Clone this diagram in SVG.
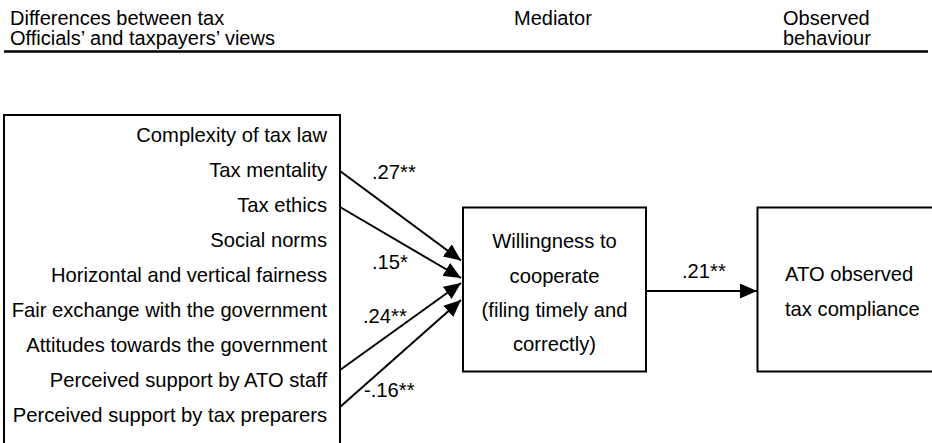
<svg xmlns="http://www.w3.org/2000/svg" width="932" height="443" viewBox="0 0 932 443">
<defs>
<style>
text{font-family:"Liberation Sans",Arial,Helvetica,sans-serif;font-size:20.2px;fill:#000}
.hd{font-size:20px}
.box{fill:#fff;stroke:#000;stroke-width:2}
.conn{stroke:#000;stroke-width:2;fill:none}
.r{text-anchor:end}
.m{text-anchor:middle}
</style>
<marker id="ah" markerUnits="userSpaceOnUse" viewBox="0 0 17 15" refX="17" refY="7.5" markerWidth="17" markerHeight="15" orient="auto">
<path d="M0,0 L17,7.5 L0,15 z" fill="#000"/>
</marker>
</defs>
<rect width="932" height="443" fill="#fff"/>
<g id="header">
<text class="hd" x="10" y="24.5">Differences between tax</text>
<text class="hd" x="10" y="45">Officials’ and taxpayers’ views</text>
<text class="hd" x="514" y="24.5">Mediator</text>
<text class="hd" x="783" y="24.5">Observed</text>
<text class="hd" x="783" y="45">behaviour</text>
<line x1="4" y1="51.5" x2="928" y2="51.5" stroke="#000" stroke-width="2.5"/>
</g>
<g id="predictors">
<rect class="box" x="4" y="115" width="336" height="340"/>
<text class="r" x="327" y="141.5">Complexity of tax law</text>
<text class="r" x="327" y="176.5">Tax mentality</text>
<text class="r" x="327" y="211.5">Tax ethics</text>
<text class="r" x="327" y="246.5">Social norms</text>
<text class="r" x="327" y="281.5">Horizontal and vertical fairness</text>
<text class="r" x="327" y="316.5">Fair exchange with the government</text>
<text class="r" x="327" y="351.5">Attitudes towards the government</text>
<text class="r" x="327" y="386.5">Perceived support by ATO staff</text>
<text class="r" x="327" y="421.5">Perceived support by tax preparers</text>
</g>
<g id="mediator">
<rect class="box" x="463" y="207.5" width="183" height="164"/>
<text class="m" x="554.5" y="248">Willingness to</text>
<text class="m" x="554.5" y="282.5">cooperate</text>
<text class="m" x="554.5" y="316.5">(filing timely and</text>
<text class="m" x="554.5" y="351">correctly)</text>
</g>
<g id="outcome">
<rect class="box" x="757.5" y="207.5" width="190" height="164"/>
<text x="785" y="281">ATO observed</text>
<text x="785" y="315.5">tax compliance</text>
</g>
<g id="connectors">
<line class="conn" x1="340" y1="171" x2="461" y2="260.5" marker-end="url(#ah)"/>
<line class="conn" x1="340" y1="207" x2="461" y2="278" marker-end="url(#ah)"/>
<line class="conn" x1="340" y1="370" x2="461" y2="283" marker-end="url(#ah)"/>
<line class="conn" x1="340" y1="407" x2="461" y2="300" marker-end="url(#ah)"/>
<line class="conn" x1="646" y1="291" x2="757" y2="291" marker-end="url(#ah)"/>
<text x="372" y="179">.27**</text>
<text x="372" y="269">.15*</text>
<text x="363" y="323">.24**</text>
<text x="364" y="397">-.16**</text>
<text x="682" y="278">.21**</text>
</g>
</svg>
